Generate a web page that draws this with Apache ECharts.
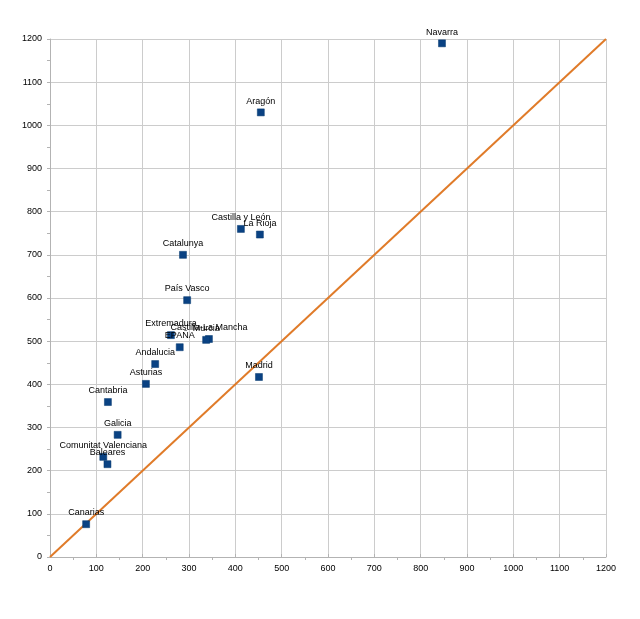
<!DOCTYPE html>
<html><head><meta charset="utf-8">
<script src="https://cdn.jsdelivr.net/npm/echarts@6/dist/echarts.min.js"></script>
<style>html,body{margin:0;padding:0;background:#fff}#c{width:640px;height:619px}</style>
</head><body><div id="c"></div>
<script>
const regions = ["Navarra","Aragón","Castilla y León","La Rioja","Catalunya","País Vasco","Extremadura","EPAÑA","Castilla-La Mancha","Murcia","Andalucia","Asturias","Madrid","Cantabria","Galicia","Comunitat Valenciana","Baleares","Canarias"];
const xValues = [846,455,412,453,287,296,261,280,343,337,227,207,451,125,146,115,124,78];
const yValues = [1190,1030,760,747,700,595,514,486,505,503,447,401,417,359,283,232,215,76];
const diagonal = [[0,0],[1200,1200]];
const axisMin = 0, axisMax = 1200, axisStep = 100;

const chart = echarts.init(document.getElementById('c'), null, {renderer:'canvas'});
const pts = regions.map((n,i)=>({name:n, value:[xValues[i], yValues[i]]}));
function axis(inside, minorLen, margin){
  return {
    type:'value', min:axisMin, max:axisMax, interval:axisStep,
    axisLine:{show:true, lineStyle:{color:'#b3b3b3'}},
    axisTick:{show:true, inside:inside, length:3, lineStyle:{color:'#b3b3b3'}},
    minorTick:{show:true, splitNumber:2, length:minorLen, lineStyle:{color:'#b3b3b3'}},
    splitLine:{show:true, lineStyle:{color:'#cccccc', width:1}},
    axisLabel:{color:'#000', fontSize:9, fontFamily:'Liberation Sans', margin:margin,
               formatter:function(v){return String(v);}}
  };
}
chart.setOption({
  animation:false,
  backgroundColor:'#fff',
  grid:{left:50, right:34, top:39, bottom:62, containLabel:false},
  xAxis:axis(true, -3, 7),
  yAxis:axis(false, 3, 8),
  series:[
    {type:'line', data:diagonal, symbol:'none', z:3,
     lineStyle:{color:'#e07b29', width:2}},
    {type:'scatter', data:pts, symbol:'rect', symbolSize:7, z:4,
     itemStyle:{color:'#0a4283', borderColor:'#00366c', borderWidth:0.5, opacity:1},
     label:{show:true, position:'top', distance:3, formatter:'{b}', color:'#000', opacity:1, fontSize:9, fontFamily:'Liberation Sans'},
     labelLayout:{hideOverlap:false}}
  ]
});
</script></body></html>
